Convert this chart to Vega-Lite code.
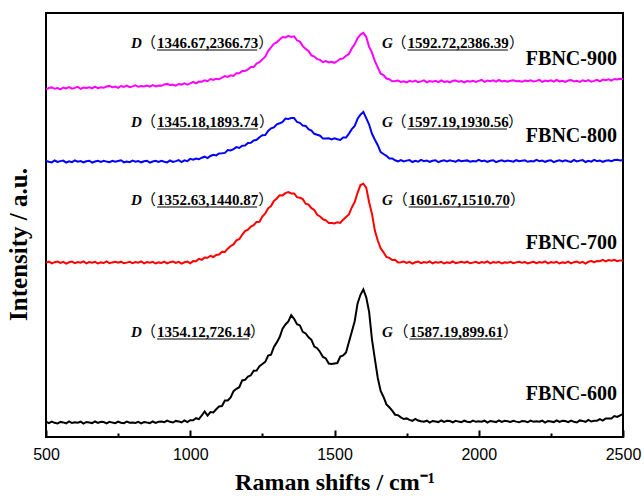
{
"$schema":"https://vega.github.io/schema/vega-lite/v6.json",
"width":577,"height":424,
"autosize":"none",
"padding":{"left":46,"top":13,"right":21,"bottom":61},
"background":"white",
"config":{"view":{"stroke":"black","strokeWidth":2},"font":"Liberation Serif"},
"datasets":{
"spec":[
{"x":500,"k":15.4,"r":174.5,"b":276.1,"m":347.7},
{"x":510,"k":13.8,"r":175.3,"b":275.2,"m":349.0},
{"x":520,"k":15.4,"r":173.6,"b":274.6,"m":349.6},
{"x":530,"k":14.2,"r":174.8,"b":276.5,"m":348.2},
{"x":540,"k":13.5,"r":175.5,"b":275.0,"m":348.9},
{"x":550,"k":15.1,"r":174.1,"b":275.9,"m":347.7},
{"x":560,"k":14.6,"r":175.1,"b":276.4,"m":349.5},
{"x":570,"k":13.7,"r":173.4,"b":274.5,"m":348.5},
{"x":580,"k":15.6,"r":174.7,"b":275.7,"m":349.8},
{"x":590,"k":14.0,"r":175.4,"b":274.9,"m":348.3},
{"x":600,"k":14.8,"r":173.8,"b":276.6,"m":349.1},
{"x":610,"k":14.3,"r":174.9,"b":275.3,"m":350.1},
{"x":620,"k":15.3,"r":174.3,"b":276.0,"m":348.2},
{"x":630,"k":13.4,"r":175.6,"b":274.7,"m":349.5},
{"x":640,"k":15.0,"r":173.7,"b":275.8,"m":349.0},
{"x":650,"k":14.5,"r":175.0,"b":276.3,"m":349.8},
{"x":660,"k":13.9,"r":174.2,"b":274.4,"m":348.6},
{"x":670,"k":15.5,"r":175.2,"b":275.5,"m":350.3},
{"x":680,"k":14.1,"r":173.5,"b":276.2,"m":348.9},
{"x":690,"k":15.2,"r":174.6,"b":275.1,"m":349.7},
{"x":700,"k":14.9,"r":174.0,"b":276.1,"m":349.2},
{"x":710,"k":13.6,"r":175.6,"b":275.4,"m":350.5},
{"x":720,"k":15.1,"r":173.9,"b":274.8,"m":351.1},
{"x":730,"k":14.4,"r":174.6,"b":276.2,"m":349.7},
{"x":740,"k":13.8,"r":175.2,"b":275.3,"m":350.4},
{"x":750,"k":15.3,"r":174.3,"b":276.0,"m":349.2},
{"x":760,"k":14.2,"r":175.3,"b":276.7,"m":351.0},
{"x":770,"k":13.9,"r":173.7,"b":274.7,"m":350.0},
{"x":780,"k":15.4,"r":174.4,"b":275.5,"m":351.3},
{"x":790,"k":14.3,"r":175.1,"b":274.8,"m":349.8},
{"x":800,"k":14.6,"r":173.9,"b":276.4,"m":350.6},
{"x":810,"k":14.1,"r":174.9,"b":275.3,"m":351.6},
{"x":820,"k":15.2,"r":174.3,"b":276.0,"m":350.2},
{"x":830,"k":13.6,"r":175.6,"b":274.7,"m":351.0},
{"x":840,"k":15.0,"r":173.7,"b":275.8,"m":350.6},
{"x":850,"k":14.4,"r":175.0,"b":276.3,"m":351.4},
{"x":860,"k":13.9,"r":174.2,"b":274.4,"m":350.3},
{"x":870,"k":15.5,"r":175.2,"b":275.5,"m":351.9},
{"x":880,"k":14.1,"r":173.5,"b":276.2,"m":350.5},
{"x":890,"k":15.2,"r":174.6,"b":275.1,"m":351.4},
{"x":900,"k":15.4,"r":174.0,"b":276.1,"m":351.2},
{"x":910,"k":14.8,"r":175.3,"b":275.2,"m":352.6},
{"x":920,"k":16.4,"r":173.6,"b":274.6,"m":353.1},
{"x":930,"k":15.2,"r":174.8,"b":276.5,"m":351.8},
{"x":940,"k":14.5,"r":175.5,"b":275.0,"m":352.5},
{"x":950,"k":16.1,"r":174.1,"b":275.9,"m":351.3},
{"x":960,"k":15.6,"r":175.1,"b":276.9,"m":353.0},
{"x":970,"k":14.7,"r":173.4,"b":275.0,"m":352.4},
{"x":980,"k":16.6,"r":174.7,"b":276.7,"m":353.6},
{"x":990,"k":15.0,"r":175.4,"b":275.9,"m":352.3},
{"x":1000,"k":16.8,"r":173.8,"b":278.1,"m":353.6},
{"x":1010,"k":16.8,"r":175.9,"b":277.3,"m":355.1},
{"x":1020,"k":18.8,"r":175.8,"b":278.5,"m":353.6},
{"x":1030,"k":17.9,"r":178.1,"b":277.7,"m":355.4},
{"x":1040,"k":21.5,"r":177.2,"b":279.3,"m":355.3},
{"x":1050,"k":25.5,"r":179.5,"b":280.3,"m":356.6},
{"x":1060,"k":21.4,"r":179.2,"b":278.9,"m":355.8},
{"x":1070,"k":25.0,"r":181.2,"b":281.0,"m":358.0},
{"x":1080,"k":24.6,"r":180.0,"b":282.2,"m":357.0},
{"x":1090,"k":27.7,"r":182.1,"b":281.6,"m":358.3},
{"x":1100,"k":30.6,"r":182.5,"b":283.6,"m":357.7},
{"x":1110,"k":31.0,"r":185.3,"b":283.7,"m":359.5},
{"x":1120,"k":36.4,"r":185.1,"b":284.1,"m":361.0},
{"x":1130,"k":36.5,"r":188.3,"b":287.0,"m":360.1},
{"x":1140,"k":39.5,"r":191.0,"b":286.5,"m":361.7},
{"x":1150,"k":45.9,"r":192.6,"b":287.9,"m":361.0},
{"x":1160,"k":48.2,"r":196.6,"b":289.9,"m":363.7},
{"x":1170,"k":49.8,"r":197.9,"b":289.0,"m":363.7},
{"x":1180,"k":56.6,"r":202.2,"b":291.2,"m":365.9},
{"x":1190,"k":57.2,"r":205.9,"b":291.4,"m":365.9},
{"x":1200,"k":60.5,"r":207.3,"b":294.1,"m":367.6},
{"x":1210,"k":61.7,"r":210.4,"b":294.3,"m":370.1},
{"x":1220,"k":66.2,"r":211.8,"b":296.5,"m":370.1},
{"x":1230,"k":66.4,"r":215.1,"b":297.2,"m":373.4},
{"x":1240,"k":70.8,"r":215.2,"b":299.8,"m":374.8},
{"x":1250,"k":73.0,"r":220.5,"b":301.8,"m":377.6},
{"x":1260,"k":75.1,"r":223.7,"b":301.9,"m":380.3},
{"x":1270,"k":81.5,"r":228.7,"b":306.0,"m":386.0},
{"x":1280,"k":82.4,"r":231.0,"b":308.7,"m":389.5},
{"x":1290,"k":90.0,"r":236.1,"b":309.6,"m":393.3},
{"x":1300,"k":94.6,"r":238.5,"b":312.6,"m":394.7},
{"x":1310,"k":100.0,"r":241.8,"b":313.7,"m":397.5},
{"x":1320,"k":108.4,"r":241.6,"b":315.1,"m":400.0},
{"x":1330,"k":112.5,"r":243.8,"b":318.5,"m":399.6},
{"x":1340,"k":115.5,"r":245.0,"b":318.0,"m":401.2},
{"x":1350,"k":121.9,"r":243.6,"b":318.9,"m":400.0},
{"x":1360,"k":118.2,"r":243.6,"b":318.9,"m":400.7},
{"x":1370,"k":112.8,"r":239.9,"b":315.0,"m":396.7},
{"x":1380,"k":111.6,"r":239.2,"b":314.2,"m":395.4},
{"x":1390,"k":105.2,"r":237.9,"b":311.4,"m":390.9},
{"x":1400,"k":103.5,"r":233.3,"b":311.1,"m":388.1},
{"x":1410,"k":99.7,"r":232.4,"b":307.8,"m":386.1},
{"x":1420,"k":97.2,"r":228.8,"b":306.5,"m":381.6},
{"x":1430,"k":90.4,"r":227.1,"b":303.2,"m":380.4},
{"x":1440,"k":88.8,"r":222.2,"b":302.3,"m":377.8},
{"x":1450,"k":85.0,"r":220.5,"b":301.3,"m":377.1},
{"x":1460,"k":80.1,"r":217.7,"b":298.4,"m":374.8},
{"x":1470,"k":78.5,"r":216.7,"b":298.5,"m":376.0},
{"x":1480,"k":73.4,"r":214.0,"b":298.7,"m":374.5},
{"x":1490,"k":73.0,"r":214.1,"b":297.6,"m":375.3},
{"x":1500,"k":73.6,"r":213.5,"b":298.6,"m":374.2},
{"x":1510,"k":74.0,"r":214.8,"b":297.7,"m":376.0},
{"x":1520,"k":80.4,"r":214.1,"b":297.1,"m":378.0},
{"x":1530,"k":81.5,"r":217.3,"b":299.5,"m":378.6},
{"x":1540,"k":84.5,"r":220.0,"b":299.5,"m":381.2},
{"x":1550,"k":94.9,"r":222.6,"b":303.4,"m":383.0},
{"x":1560,"k":105.2,"r":229.6,"b":307.9,"m":388.7},
{"x":1570,"k":115.8,"r":234.9,"b":311.0,"m":392.7},
{"x":1580,"k":133.6,"r":244.2,"b":318.2,"m":398.9},
{"x":1590,"k":142.2,"r":251.9,"b":322.4,"m":402.4},
{"x":1600,"k":147.5,"r":253.3,"b":325.1,"m":404.1},
{"x":1610,"k":139.7,"r":249.4,"b":318.8,"m":400.1},
{"x":1620,"k":125.2,"r":234.8,"b":312.5,"m":390.1},
{"x":1630,"k":97.4,"r":223.1,"b":303.2,"m":384.4},
{"x":1640,"k":77.8,"r":206.2,"b":297.3,"m":375.8},
{"x":1650,"k":59.0,"r":196.5,"b":291.8,"m":369.6},
{"x":1660,"k":46.1,"r":188.7,"b":284.9,"m":363.3},
{"x":1670,"k":40.0,"r":184.7,"b":283.0,"m":362.0},
{"x":1680,"k":32.6,"r":180.0,"b":281.2,"m":358.5},
{"x":1690,"k":29.7,"r":179.1,"b":278.6,"m":357.8},
{"x":1700,"k":26.4,"r":177.0,"b":278.6,"m":355.7},
{"x":1710,"k":22.3,"r":177.3,"b":276.7,"m":356.0},
{"x":1720,"k":21.9,"r":174.6,"b":275.6,"m":356.5},
{"x":1730,"k":19.7,"r":174.8,"b":277.0,"m":355.1},
{"x":1740,"k":18.0,"r":175.5,"b":275.5,"m":355.7},
{"x":1750,"k":18.6,"r":174.1,"b":276.4,"m":354.5},
{"x":1760,"k":17.1,"r":175.1,"b":276.9,"m":356.2},
{"x":1770,"k":16.2,"r":173.4,"b":275.0,"m":355.2},
{"x":1780,"k":18.1,"r":174.7,"b":276.2,"m":356.4},
{"x":1790,"k":16.5,"r":175.4,"b":275.4,"m":354.9},
{"x":1800,"k":15.8,"r":173.8,"b":277.1,"m":355.6},
{"x":1810,"k":15.3,"r":174.9,"b":275.8,"m":356.6},
{"x":1820,"k":16.3,"r":174.3,"b":276.5,"m":354.6},
{"x":1830,"k":14.4,"r":175.6,"b":275.2,"m":355.9},
{"x":1840,"k":16.0,"r":173.7,"b":276.3,"m":355.3},
{"x":1850,"k":15.5,"r":175.0,"b":276.8,"m":356.1},
{"x":1860,"k":14.9,"r":174.2,"b":274.9,"m":354.8},
{"x":1870,"k":16.5,"r":175.2,"b":276.0,"m":356.5},
{"x":1880,"k":15.1,"r":173.5,"b":276.7,"m":355.0},
{"x":1890,"k":16.2,"r":174.6,"b":275.6,"m":355.8},
{"x":1900,"k":15.9,"r":174.0,"b":276.6,"m":354.7},
{"x":1910,"k":14.6,"r":175.5,"b":275.9,"m":356.2},
{"x":1920,"k":16.1,"r":173.9,"b":275.3,"m":356.4},
{"x":1930,"k":15.4,"r":174.5,"b":276.8,"m":355.3},
{"x":1940,"k":14.8,"r":175.2,"b":275.7,"m":355.9},
{"x":1950,"k":16.3,"r":174.4,"b":276.2,"m":354.7},
{"x":1960,"k":15.3,"r":175.3,"b":276.6,"m":356.0},
{"x":1970,"k":14.9,"r":173.7,"b":275.3,"m":355.4},
{"x":1980,"k":16.4,"r":174.4,"b":276.0,"m":356.2},
{"x":1990,"k":15.2,"r":175.1,"b":275.6,"m":355.1},
{"x":2000,"k":15.8,"r":173.8,"b":277.1,"m":356.1},
{"x":2010,"k":15.3,"r":174.9,"b":275.8,"m":357.1},
{"x":2020,"k":16.3,"r":174.3,"b":276.5,"m":355.1},
{"x":2030,"k":14.4,"r":175.6,"b":275.2,"m":356.4},
{"x":2040,"k":16.0,"r":173.7,"b":276.3,"m":355.8},
{"x":2050,"k":15.5,"r":175.0,"b":276.8,"m":356.6},
{"x":2060,"k":14.9,"r":174.2,"b":274.9,"m":355.3},
{"x":2070,"k":16.5,"r":175.2,"b":276.0,"m":357.0},
{"x":2080,"k":15.1,"r":173.5,"b":276.7,"m":355.5},
{"x":2090,"k":16.2,"r":174.6,"b":275.6,"m":356.3},
{"x":2100,"k":15.7,"r":174.2,"b":276.4,"m":355.4},
{"x":2110,"k":15.0,"r":175.1,"b":275.9,"m":356.3},
{"x":2120,"k":16.2,"r":173.8,"b":275.3,"m":356.8},
{"x":2130,"k":15.4,"r":174.6,"b":276.8,"m":355.8},
{"x":2140,"k":14.7,"r":175.3,"b":275.7,"m":356.0},
{"x":2150,"k":15.9,"r":174.3,"b":276.2,"m":355.2},
{"x":2160,"k":15.8,"r":174.9,"b":276.7,"m":356.5},
{"x":2170,"k":14.9,"r":173.6,"b":275.2,"m":355.9},
{"x":2180,"k":16.4,"r":174.5,"b":276.0,"m":356.7},
{"x":2190,"k":15.2,"r":175.2,"b":275.6,"m":355.6},
{"x":2200,"k":15.8,"r":173.8,"b":277.1,"m":356.1},
{"x":2210,"k":15.3,"r":174.9,"b":275.8,"m":357.1},
{"x":2220,"k":16.3,"r":174.3,"b":276.5,"m":355.1},
{"x":2230,"k":14.4,"r":175.6,"b":275.2,"m":356.4},
{"x":2240,"k":16.0,"r":173.7,"b":276.3,"m":355.8},
{"x":2250,"k":15.5,"r":175.0,"b":276.8,"m":356.6},
{"x":2260,"k":14.9,"r":174.2,"b":274.9,"m":355.3},
{"x":2270,"k":16.5,"r":175.2,"b":276.0,"m":357.0},
{"x":2280,"k":15.1,"r":173.5,"b":276.7,"m":355.5},
{"x":2290,"k":16.2,"r":174.6,"b":275.6,"m":356.3},
{"x":2300,"k":15.9,"r":174.0,"b":276.6,"m":355.2},
{"x":2310,"k":14.8,"r":175.3,"b":275.7,"m":356.5},
{"x":2320,"k":16.4,"r":173.6,"b":275.1,"m":357.0},
{"x":2330,"k":15.2,"r":174.8,"b":277.0,"m":355.6},
{"x":2340,"k":14.5,"r":175.5,"b":275.5,"m":356.2},
{"x":2350,"k":16.6,"r":174.1,"b":276.4,"m":355.0},
{"x":2360,"k":16.1,"r":175.1,"b":276.9,"m":356.7},
{"x":2370,"k":15.2,"r":173.4,"b":275.0,"m":355.7},
{"x":2380,"k":17.1,"r":175.2,"b":276.2,"m":356.9},
{"x":2390,"k":15.5,"r":175.9,"b":275.4,"m":355.4},
{"x":2400,"k":16.3,"r":174.8,"b":277.1,"m":356.1},
{"x":2410,"k":16.3,"r":175.9,"b":275.8,"m":357.1},
{"x":2420,"k":17.8,"r":175.8,"b":276.5,"m":355.6},
{"x":2430,"k":16.4,"r":177.1,"b":275.2,"m":357.4},
{"x":2440,"k":18.5,"r":175.7,"b":276.3,"m":356.8},
{"x":2450,"k":18.5,"r":177.0,"b":276.8,"m":357.6},
{"x":2460,"k":18.4,"r":176.2,"b":275.9,"m":356.3},
{"x":2470,"k":21.0,"r":177.2,"b":277.0,"m":358.0},
{"x":2480,"k":20.1,"r":175.8,"b":277.2,"m":357.5},
{"x":2490,"k":21.7,"r":176.6,"b":276.6,"m":358.3},
{"x":2500,"k":23.0,"r":176.5,"b":277.0,"m":358.0}
],
"names":[
{"name":"FBNC-900","x":2479,"y":378},
{"name":"FBNC-800","x":2479,"y":301},
{"name":"FBNC-700","x":2479,"y":194},
{"name":"FBNC-600","x":2479,"y":43}
],
"ann":[
{"l":"D","n":"1346.67,2366.73","x":795,"u1":885,"u2":1232,"y":394},
{"l":"G","n":"1592.72,2386.39","x":1665,"u1":1753,"u2":2101,"y":394},
{"l":"D","n":"1345.18,1893.74","x":795,"u1":885,"u2":1235,"y":315},
{"l":"G","n":"1597.19,1930.56","x":1665,"u1":1753,"u2":2098,"y":315},
{"l":"D","n":"1352.63,1440.87","x":795,"u1":885,"u2":1232,"y":237},
{"l":"G","n":"1601.67,1510.70","x":1665,"u1":1757,"u2":2105,"y":237},
{"l":"D","n":"1354.12,726.14","x":795,"u1":885,"u2":1204,"y":105},
{"l":"G","n":"1587.19,899.61","x":1665,"u1":1760,"u2":2081,"y":105}
]
},
"layer":[
{"data":{"name":"spec"},
 "transform":[{"fold":["m","b","r","k"],"as":["s","v"]}],
 "mark":{"type":"line","strokeWidth":2,"clip":true},
 "encoding":{
  "x":{"field":"x","type":"quantitative","scale":{"domain":[500,2500],"nice":false},
   "axis":{"title":"Raman shifts / cm⁻¹","values":[500,750,1000,1250,1500,1750,2000,2250,2500],
    "labelExpr":"datum.value % 500 === 0 ? datum.label : ''","format":"d","labelFlush":false,
    "domain":false,"grid":false,"ticks":true,"tickColor":"black","tickWidth":2,"tickSize":7,"offset":-7,
    "tickDash":{"condition":{"test":"datum.value % 500 === 0","value":[]},"value":[0,3,4]},
    "labelFont":"Liberation Sans","labelFontSize":16,"labelColor":"black","labelPadding":9,
    "titleFont":"Liberation Serif","titleFontSize":24,"titleFontWeight":"bold","titleColor":"black","titlePadding":8}},
  "y":{"field":"v","type":"quantitative","scale":{"domain":[0,424],"nice":false,"zero":false},
   "axis":{"title":"Intensity / a.u.","labels":false,"ticks":false,"domain":false,"grid":false,
    "titleFont":"Liberation Serif","titleFontSize":25,"titleFontWeight":"bold","titleColor":"black","titlePadding":15,"titleY":231}},
  "color":{"field":"s","type":"nominal","scale":{"domain":["m","b","r","k"],"range":["#FF00FF","#0000FF","#FF0000","#000000"]},"legend":null}
 }},
{"data":{"name":"names"},
 "mark":{"type":"text","align":"right","baseline":"middle","font":"Liberation Serif","fontSize":20,"fontWeight":"bold","color":"black"},
 "encoding":{"x":{"field":"x","type":"quantitative"},"y":{"field":"y","type":"quantitative"},"text":{"field":"name"}}},
{"data":{"name":"ann"},
 "mark":{"type":"text","align":"left","baseline":"middle","font":"Liberation Serif","fontSize":15,"fontWeight":"bold","fontStyle":"italic","color":"black"},
 "encoding":{"x":{"field":"x","type":"quantitative"},"y":{"field":"y","type":"quantitative"},"text":{"field":"l"}}},
{"data":{"name":"ann"},
 "mark":{"type":"text","align":"right","baseline":"middle","font":"Noto Sans CJK SC","fontSize":15,"color":"black","dx":-1},
 "encoding":{"x":{"field":"u1","type":"quantitative"},"y":{"field":"y","type":"quantitative"},"text":{"value":"（"}}},
{"data":{"name":"ann"},
 "mark":{"type":"text","align":"left","baseline":"middle","font":"Liberation Serif","fontSize":15,"fontWeight":"bold","color":"black"},
 "encoding":{"x":{"field":"u1","type":"quantitative"},"y":{"field":"y","type":"quantitative"},"text":{"field":"n"}}},
{"data":{"name":"ann"},
 "mark":{"type":"text","align":"left","baseline":"middle","font":"Noto Sans CJK SC","fontSize":15,"color":"black","dx":1},
 "encoding":{"x":{"field":"u2","type":"quantitative"},"y":{"field":"y","type":"quantitative"},"text":{"value":"）"}}},
{"data":{"name":"ann"},
 "mark":{"type":"rule","color":"black","strokeWidth":1.2,"yOffset":7},
 "encoding":{"x":{"field":"u1","type":"quantitative"},"x2":{"field":"u2"},"y":{"field":"y","type":"quantitative"}}}
]
}
